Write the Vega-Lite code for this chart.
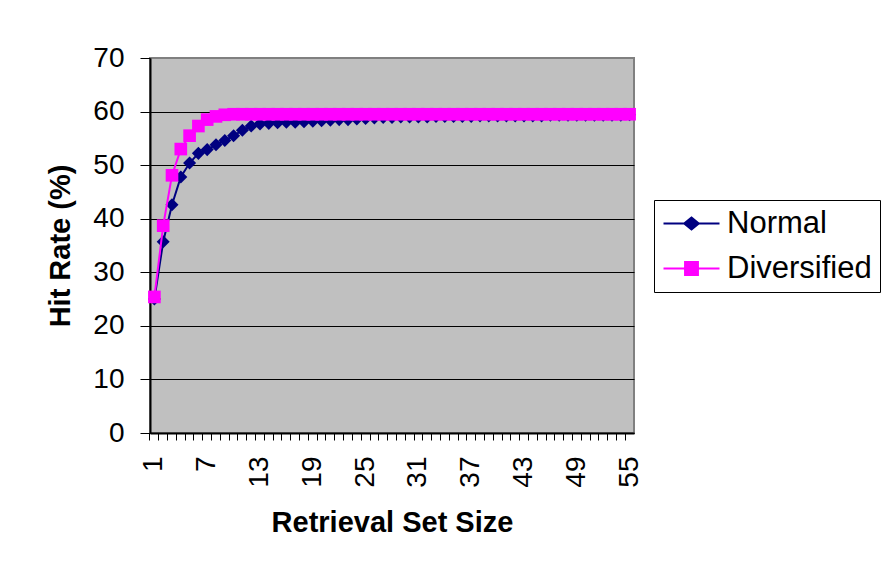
{
  "$schema": "https://vega.github.io/schema/vega-lite/v6.json",
  "width": 484,
  "height": 375,
  "autosize": {"type": "none"},
  "padding": {"left": 150, "top": 58, "right": 248, "bottom": 132},
  "background": "white",
  "config": {
    "font": "Liberation Sans",
    "view": {"fill": "#C0C0C0", "stroke": "#808080", "strokeWidth": 2},
    "axis": {"labelColor": "black", "titleColor": "black", "domainColor": "black", "tickColor": "black", "labelFont": "Liberation Sans", "titleFont": "Liberation Sans"}
  },
  "data": {
    "values": [
      {"x": 1, "series": "Normal", "y": 25.0},
      {"x": 2, "series": "Normal", "y": 35.7},
      {"x": 3, "series": "Normal", "y": 42.6},
      {"x": 4, "series": "Normal", "y": 47.8},
      {"x": 5, "series": "Normal", "y": 50.4},
      {"x": 6, "series": "Normal", "y": 52.2},
      {"x": 7, "series": "Normal", "y": 52.9},
      {"x": 8, "series": "Normal", "y": 53.8},
      {"x": 9, "series": "Normal", "y": 54.6},
      {"x": 10, "series": "Normal", "y": 55.5},
      {"x": 11, "series": "Normal", "y": 56.5},
      {"x": 12, "series": "Normal", "y": 57.3},
      {"x": 13, "series": "Normal", "y": 57.7},
      {"x": 14, "series": "Normal", "y": 57.8},
      {"x": 15, "series": "Normal", "y": 57.9},
      {"x": 16, "series": "Normal", "y": 58.0},
      {"x": 17, "series": "Normal", "y": 58.0},
      {"x": 18, "series": "Normal", "y": 58.1},
      {"x": 19, "series": "Normal", "y": 58.2},
      {"x": 20, "series": "Normal", "y": 58.3},
      {"x": 21, "series": "Normal", "y": 58.4},
      {"x": 22, "series": "Normal", "y": 58.5},
      {"x": 23, "series": "Normal", "y": 58.5},
      {"x": 24, "series": "Normal", "y": 58.6},
      {"x": 25, "series": "Normal", "y": 58.7},
      {"x": 26, "series": "Normal", "y": 58.8},
      {"x": 27, "series": "Normal", "y": 58.9},
      {"x": 28, "series": "Normal", "y": 58.9},
      {"x": 29, "series": "Normal", "y": 59.0},
      {"x": 30, "series": "Normal", "y": 59.0},
      {"x": 31, "series": "Normal", "y": 59.0},
      {"x": 32, "series": "Normal", "y": 59.0},
      {"x": 33, "series": "Normal", "y": 59.1},
      {"x": 34, "series": "Normal", "y": 59.1},
      {"x": 35, "series": "Normal", "y": 59.1},
      {"x": 36, "series": "Normal", "y": 59.1},
      {"x": 37, "series": "Normal", "y": 59.1},
      {"x": 38, "series": "Normal", "y": 59.2},
      {"x": 39, "series": "Normal", "y": 59.2},
      {"x": 40, "series": "Normal", "y": 59.2},
      {"x": 41, "series": "Normal", "y": 59.2},
      {"x": 42, "series": "Normal", "y": 59.2},
      {"x": 43, "series": "Normal", "y": 59.2},
      {"x": 44, "series": "Normal", "y": 59.2},
      {"x": 45, "series": "Normal", "y": 59.2},
      {"x": 46, "series": "Normal", "y": 59.3},
      {"x": 47, "series": "Normal", "y": 59.3},
      {"x": 48, "series": "Normal", "y": 59.3},
      {"x": 49, "series": "Normal", "y": 59.3},
      {"x": 50, "series": "Normal", "y": 59.3},
      {"x": 51, "series": "Normal", "y": 59.3},
      {"x": 52, "series": "Normal", "y": 59.3},
      {"x": 53, "series": "Normal", "y": 59.3},
      {"x": 54, "series": "Normal", "y": 59.3},
      {"x": 55, "series": "Normal", "y": 59.4},
      {"x": 1, "series": "Diversified", "y": 25.4},
      {"x": 2, "series": "Diversified", "y": 38.7},
      {"x": 3, "series": "Diversified", "y": 48.1},
      {"x": 4, "series": "Diversified", "y": 53.0},
      {"x": 5, "series": "Diversified", "y": 55.5},
      {"x": 6, "series": "Diversified", "y": 57.3},
      {"x": 7, "series": "Diversified", "y": 58.5},
      {"x": 8, "series": "Diversified", "y": 59.1},
      {"x": 9, "series": "Diversified", "y": 59.4},
      {"x": 10, "series": "Diversified", "y": 59.5},
      {"x": 11, "series": "Diversified", "y": 59.5},
      {"x": 12, "series": "Diversified", "y": 59.5},
      {"x": 13, "series": "Diversified", "y": 59.5},
      {"x": 14, "series": "Diversified", "y": 59.5},
      {"x": 15, "series": "Diversified", "y": 59.5},
      {"x": 16, "series": "Diversified", "y": 59.5},
      {"x": 17, "series": "Diversified", "y": 59.5},
      {"x": 18, "series": "Diversified", "y": 59.5},
      {"x": 19, "series": "Diversified", "y": 59.5},
      {"x": 20, "series": "Diversified", "y": 59.5},
      {"x": 21, "series": "Diversified", "y": 59.5},
      {"x": 22, "series": "Diversified", "y": 59.5},
      {"x": 23, "series": "Diversified", "y": 59.5},
      {"x": 24, "series": "Diversified", "y": 59.5},
      {"x": 25, "series": "Diversified", "y": 59.5},
      {"x": 26, "series": "Diversified", "y": 59.5},
      {"x": 27, "series": "Diversified", "y": 59.5},
      {"x": 28, "series": "Diversified", "y": 59.5},
      {"x": 29, "series": "Diversified", "y": 59.5},
      {"x": 30, "series": "Diversified", "y": 59.5},
      {"x": 31, "series": "Diversified", "y": 59.5},
      {"x": 32, "series": "Diversified", "y": 59.5},
      {"x": 33, "series": "Diversified", "y": 59.5},
      {"x": 34, "series": "Diversified", "y": 59.5},
      {"x": 35, "series": "Diversified", "y": 59.5},
      {"x": 36, "series": "Diversified", "y": 59.5},
      {"x": 37, "series": "Diversified", "y": 59.5},
      {"x": 38, "series": "Diversified", "y": 59.5},
      {"x": 39, "series": "Diversified", "y": 59.5},
      {"x": 40, "series": "Diversified", "y": 59.5},
      {"x": 41, "series": "Diversified", "y": 59.5},
      {"x": 42, "series": "Diversified", "y": 59.5},
      {"x": 43, "series": "Diversified", "y": 59.5},
      {"x": 44, "series": "Diversified", "y": 59.5},
      {"x": 45, "series": "Diversified", "y": 59.5},
      {"x": 46, "series": "Diversified", "y": 59.5},
      {"x": 47, "series": "Diversified", "y": 59.5},
      {"x": 48, "series": "Diversified", "y": 59.5},
      {"x": 49, "series": "Diversified", "y": 59.5},
      {"x": 50, "series": "Diversified", "y": 59.5},
      {"x": 51, "series": "Diversified", "y": 59.5},
      {"x": 52, "series": "Diversified", "y": 59.5},
      {"x": 53, "series": "Diversified", "y": 59.5},
      {"x": 54, "series": "Diversified", "y": 59.5},
      {"x": 55, "series": "Diversified", "y": 59.5}
    ]
  },
  "encoding": {
    "x": {
      "field": "x",
      "type": "ordinal",
      "bandPosition": 0.5,
      "scale": {"type": "band", "paddingInner": 0, "paddingOuter": 0},
      "axis": {
        "title": "Retrieval Set Size",
        "titleFontSize": 29,
        "titleFontWeight": "bold",
        "titlePadding": 21,
        "labelFontSize": 28,
        "labelAngle": 270,
        "labelPadding": 16,
        "labelOverlap": false,
        "labelExpr": "(datum.value - 1) % 6 == 0 ? datum.label : ''",
        "tickSize": 7,
        "bandPosition": 0,
        "grid": false,
        "domainWidth": 2
      }
    },
    "y": {
      "field": "y",
      "type": "quantitative",
      "scale": {"domain": [0, 70], "nice": false},
      "axis": {
        "title": "Hit Rate (%)",
        "titleFontSize": 29,
        "titleFontWeight": "bold",
        "titlePadding": 17,
        "labelFontSize": 28,
        "labelPadding": 16,
        "tickSize": 10,
        "values": [0, 10, 20, 30, 40, 50, 60, 70],
        "grid": true,
        "gridColor": {"condition": {"test": "datum.value === 70", "value": "#808080"}, "value": "black"},
        "gridWidth": 1,
        "domainWidth": 2
      }
    }
  },
  "layer": [
    {
      "transform": [{"filter": "datum.series === 'Normal'"}],
      "mark": {"type": "line", "strokeWidth": 2, "color": "#000080"}
    },
    {
      "transform": [{"filter": "datum.series === 'Normal'"}],
      "mark": {"type": "point", "shape": "diamond", "filled": true, "size": 170, "color": "#000080", "opacity": 1}
    },
    {
      "transform": [{"filter": "datum.series === 'Diversified'"}],
      "mark": {"type": "line", "strokeWidth": 2, "color": "#FF00FF"}
    },
    {
      "transform": [{"filter": "datum.series === 'Diversified'"}],
      "mark": {"type": "point", "shape": "square", "filled": true, "size": 160, "color": "#FF00FF", "opacity": 1}
    },
    {
      "mark": {"type": "point", "size": 0, "strokeWidth": 2, "opacity": 1},
      "encoding": {
        "fill": {"field": "series", "type": "nominal", "scale": {"domain": ["Normal", "Diversified"], "range": ["#000080", "#FF00FF"]},
          "legend": {
            "title": null,
            "orient": "none",
            "legendX": 504,
            "legendY": 142,
            "fillColor": "white",
            "strokeColor": "black",
            "padding": 8,
            "rowPadding": 13,
            "labelFontSize": 31,
            "labelColor": "black",
            "labelFont": "Liberation Sans",
            "labelOffset": 20,
            "symbolOffset": 14,
            "symbolSize": 784,
            "symbolStrokeWidth": 2,
            "encode": {
              "legend": {"update": {"strokeWidth": {"value": 2}}}
            }
          }
        },
        "stroke": {"field": "series", "type": "nominal", "scale": {"domain": ["Normal", "Diversified"], "range": ["#000080", "#FF00FF"]}},
        "shape": {"field": "series", "type": "nominal", "scale": {"domain": ["Normal", "Diversified"], "range": ["M-2,0H2M0,-0.42L0.52,0L0,0.42L-0.52,0Z", "M-2,0H2M-0.46,-0.46H0.46V0.46H-0.46Z"]}}
      }
    }
  ]
}
